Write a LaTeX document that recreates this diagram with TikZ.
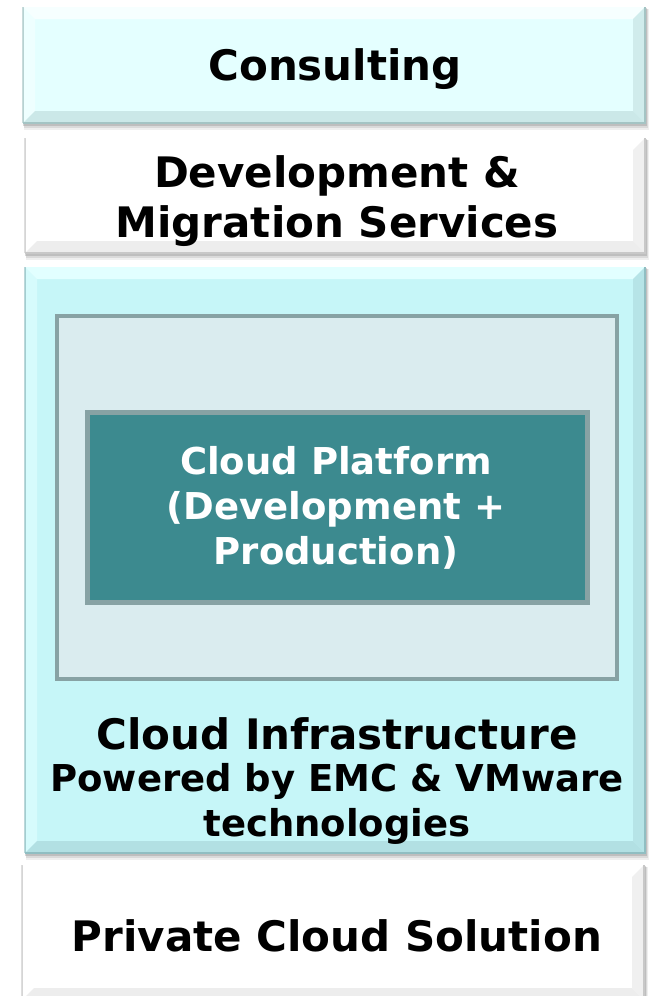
\documentclass[tikz,border=0pt]{standalone}
\usepackage{fontspec}
\setmainfont{DejaVu Sans}
\definecolor{consultfill}{HTML}{E4FFFF}
\definecolor{consultlight}{HTML}{F6FFFF}
\definecolor{consultdark}{HTML}{CBE8E8}
\definecolor{consultdarker}{HTML}{A4C4C4}
\definecolor{infrafill}{HTML}{C6F6F8}
\definecolor{infralight}{HTML}{E2FFFF}
\definecolor{infradark}{HTML}{B2E0E3}
\definecolor{infradarker}{HTML}{90BEC2}
\definecolor{whitedark}{HTML}{EDEDED}
\definecolor{whitedarker}{HTML}{C8C8C8}
\definecolor{shadowc}{HTML}{808080}
\definecolor{frameg}{HTML}{87A2A4}
\definecolor{innerfill}{HTML}{DAECEF}
\definecolor{tealfill}{HTML}{3C8A8F}
% #1 name, #2 x1, #3 y1, #4 x2, #5 y2, #6 fill, #7 light, #8 dark, #9 darker
\newcommand\bevbox[9]{%
  \fill[shadowc,opacity=.12] (#2+1,#3+2) rectangle (#4+4,#5+7);
  \fill[shadowc,opacity=.18] (#2+1,#3+2) rectangle (#4+3,#5+5);
  \fill[shadowc,opacity=.3] (#2,#3+1) rectangle (#4+2,#5+3);
  \node[draw=#9,line width=.8pt,fill=#6,inner sep=0pt,anchor=north west,
        minimum width={(#4-#2)*1pt},minimum height={(#5-#3)*1pt}] (#1) at (#2,#3) {};
  \fill[#7] (#2,#3) -- (#4,#3) -- (#4-12,#3+12) -- (#2+12,#3+12) -- cycle;
  \fill[#7,opacity=.6] (#2,#3) -- (#2+12,#3+12) -- (#2+12,#5-12) -- (#2,#5) -- cycle;
  \fill[#8] (#2,#5) -- (#2+12,#5-12) -- (#4-12,#5-12) -- (#4,#5) -- cycle;
  \fill[#8,opacity=.8] (#4,#3) -- (#4,#5) -- (#4-12,#5-12) -- (#4-12,#3+12) -- cycle;
  \draw[#9,line width=1.5pt] (#2,#5) -- (#4,#5) -- (#4,#3);
  \draw[#9,opacity=.6,line width=1.2pt] (#2,#3) -- (#2,#5);
}
\tikzset{
  bigtext/.style={font=\bfseries\fontsize{42}{50}\selectfont,align=center,text=black,inner sep=0pt},
  midtext/.style={font=\bfseries\fontsize{37}{45}\selectfont,align=center,text=black,inner sep=0pt},
}
\begin{document}
\begin{tikzpicture}[x=1pt,y=-1pt]
\useasboundingbox (0,0) rectangle (648,996);
\fill[white] (0,0) rectangle (648,996);

\bevbox{consult}{23}{7}{645}{123}{consultfill}{consultlight}{consultdark}{consultdarker}
\bevbox{dev}{25}{138}{645}{253}{white}{white}{whitedark}{whitedarker}
\bevbox{infra}{25}{267}{645}{853}{infrafill}{infralight}{infradark}{infradarker}
\bevbox{priv}{22}{865}{644}{1000}{white}{white}{whitedark}{whitedarker}

\node[draw=frameg,line width=4pt,fill=innerfill,inner sep=0pt,anchor=north west,
      minimum width=560pt,minimum height=363pt] (inner) at (55,314) {};
\node[draw=frameg,line width=5pt,fill=tealfill,inner sep=0pt,anchor=north west,
      minimum width=500pt,minimum height=190pt] (platform) at (85,410) {};

\node[bigtext] (tconsult) at (335,69) {Consulting};
\node[bigtext] (tdev) at (337,201) {Development \&\\Migration Services};
\node[midtext,text=white] (tplat) at (336,508) {Cloud Platform\\(Development +\\Production)};
\node[bigtext] (tinfra) at (337,734) {Cloud Infrastructure};
\node[midtext] (tpow) at (337,804) {Powered by EMC \& VMware\\technologies};
\node[bigtext] (tpriv) at (337,936) {Private Cloud Solution};
\end{tikzpicture}
\end{document}
